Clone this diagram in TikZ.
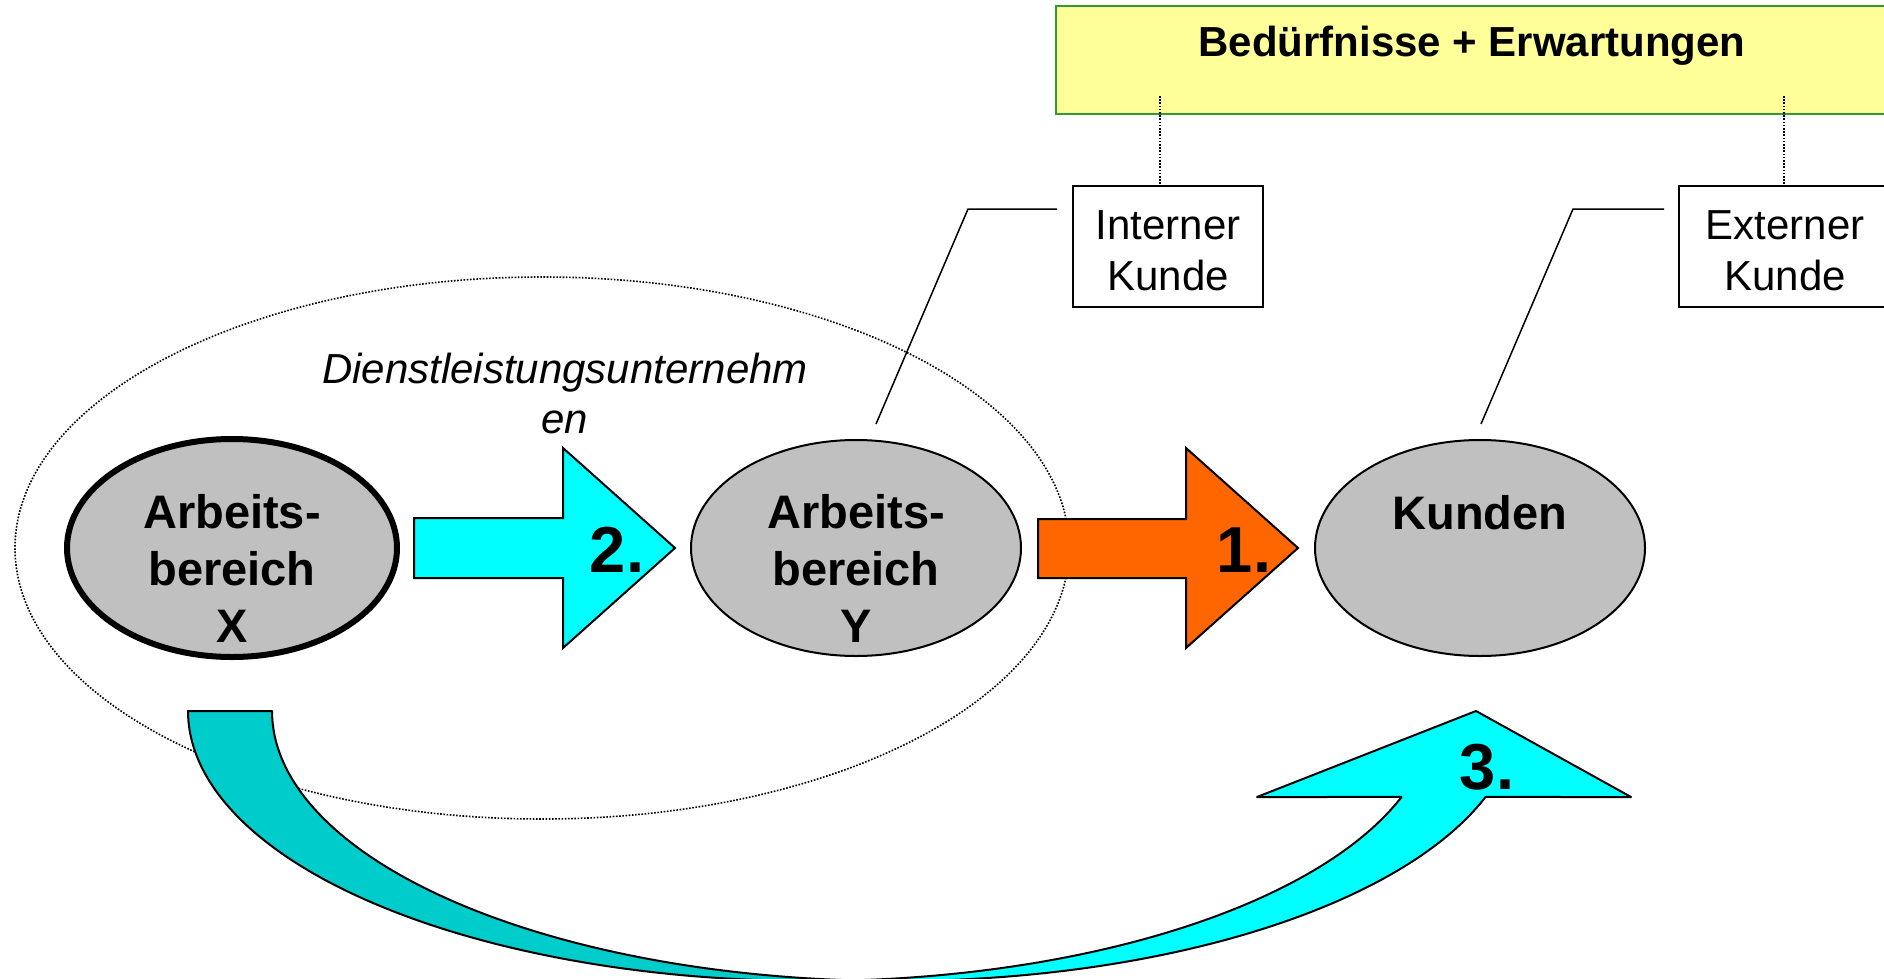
\documentclass[tikz,border=0pt]{standalone}
\usepackage{fontspec}
\setmainfont{Liberation Sans}
\usetikzlibrary{shapes.geometric}
\definecolor{needfill}{HTML}{FFFF99}
\definecolor{needline}{HTML}{339933}
\definecolor{grayfill}{HTML}{C0C0C0}
\definecolor{cyanfill}{HTML}{00FFFF}
\definecolor{tealfill}{HTML}{00CCCC}
\definecolor{orangefill}{HTML}{FF6600}
\begin{document}
\begin{tikzpicture}[x=1pt,y=-1pt,
  dotline/.style={line width=1.6pt, dash pattern=on 1.6pt off 1.6pt},
  needbox/.style={draw=needline, fill=needfill, line width=2.5pt, inner sep=0pt},
  kbox/.style={draw, fill=white, line width=2pt, inner sep=0pt},
  ktext/.style={align=center, inner sep=0pt, font=\fontsize{42}{51}\selectfont},
  callout/.style={line width=1.5pt},
  area/.style={ellipse, draw, fill=grayfill, line width=2pt, inner sep=0pt,
    minimum width=330pt, minimum height=216pt},
  areatext/.style={align=center, inner sep=0pt, anchor=north,
    font=\fontsize{47}{57}\selectfont\bfseries},
  blockarrow/.style={draw, line width=2pt, line join=miter},
  numtext/.style={inner sep=0pt, anchor=base, font=\fontsize{65}{70}\selectfont\bfseries}
]
\useasboundingbox (0,0) rectangle (1884,979);
\clip (0,0) rectangle (1884,979);

% needs box
\node[needbox, minimum width=834pt, minimum height=108pt] (needs) at (1473,60) {};
\node[inner sep=0pt, anchor=base, font=\fontsize{42}{48}\selectfont\bfseries] (needstext) at (1472,57) {Bedürfnisse + Erwartungen};

% customer boxes
\node[kbox, minimum width=190pt, minimum height=121pt] (intern) at (1168,246.5) {};
\node[ktext] (interntext) at (1168,251) {Interner\\Kunde};
\node[kbox, minimum width=212pt, minimum height=121pt] (extern) at (1785,246.5) {};
\node[ktext] (externtext) at (1785,251) {Externer\\Kunde};

\coordinate (n1) at (1160,96);
\coordinate (n2) at (1784,96);
\draw[dotline] (n1) -- (n1 |- intern.north);
\draw[dotline] (n2) -- (n2 |- extern.north);

% callout lines
\coordinate (c1a) at (1057,209);
\coordinate (c1b) at (968,209);
\coordinate (c1c) at (876,424);
\coordinate (c2a) at (1664,209);
\coordinate (c2b) at (1573,209);
\coordinate (c2c) at (1481,424);
\draw[callout] (c1a) -- (c1b) -- (c1c);
\draw[callout] (c2a) -- (c2b) -- (c2c);

% company ellipse
\node[ellipse, draw, dotline, inner sep=0pt, minimum width=1054pt, minimum height=542pt] (company) at (542,548) {};
\node[align=center, inner sep=0pt, anchor=north, font=\fontsize{42}{50}\selectfont\itshape] (companytext) at (565,353) {Dienstleistungsunternehm\\en};

% curved arrow 3
\filldraw[line width=2pt, line join=round, fill=tealfill]
  plot[domain=180:86.13, samples=100, variable=\t] ({811+623*cos(\t)},{711+270*sin(\t)})
  -- plot[domain=93.87:180, samples=100, variable=\t] ({895+623*cos(\t)},{711+270*sin(\t)})
  -- cycle;
\filldraw[line width=2pt, line join=round, fill=cyanfill]
  plot[domain=93.87:18.57, samples=100, variable=\t] ({895+623*cos(\t)},{711+270*sin(\t)})
  -- (1631,797) -- (1476,711) -- (1257,797)
  -- plot[domain=18.57:86.13, samples=100, variable=\t] ({811+623*cos(\t)},{711+270*sin(\t)})
  -- cycle;
\node[numtext] (three) at (1487,789) {3.};

% work areas
\node[area, line width=6pt, minimum width=330pt, minimum height=218pt] (areax) at (232,548) {};
\node[areatext] (areaxtext) at (232,494) {Arbeits-\\bereich\\X};
\node[area] (areay) at (856,548) {};
\node[areatext] (areaytext) at (856,494) {Arbeits-\\bereich\\Y};
\node[area] (kunden) at (1480,548) {};
\node[inner sep=0pt, anchor=base, font=\fontsize{47}{57}\selectfont\bfseries] (kundentext) at (1480,529) {Kunden};

% block arrows
\draw[blockarrow, fill=cyanfill] (414,518) -- (563,518) -- (563,448) -- (675,548) -- (563,648) -- (563,578) -- (414,578) -- cycle;
\node[numtext] (two) at (617,572) {2.};
\draw[blockarrow, fill=orangefill] (1038,519) -- (1186,519) -- (1186,448) -- (1298,548) -- (1186,648) -- (1186,578) -- (1038,578) -- cycle;
\node[numtext] (one) at (1244,572) {1.};
\end{tikzpicture}
\end{document}
